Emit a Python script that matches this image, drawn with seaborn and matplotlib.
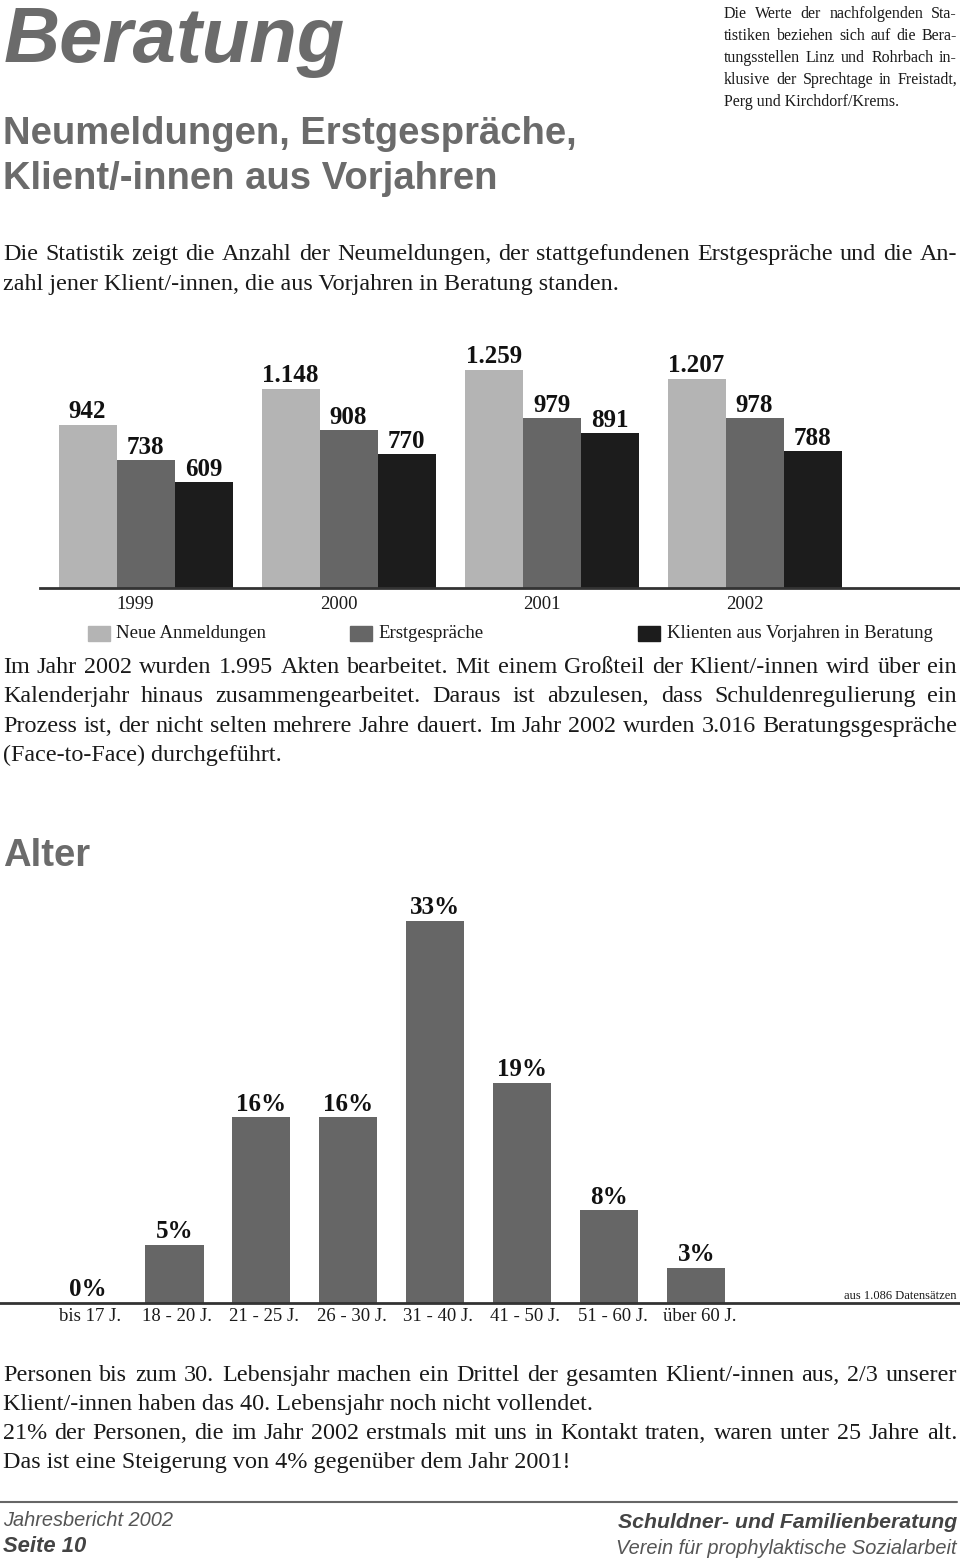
import matplotlib
matplotlib.use("Agg")
import matplotlib.pyplot as plt
import seaborn as sns
import pandas as pd
from matplotlib.patches import Rectangle
from matplotlib.lines import Line2D
from matplotlib.transforms import ScaledTranslation

# ---------------- data ----------------
years = ["1999", "2000", "2001", "2002"]
series = ["Neue Anmeldungen", "Erstgespräche", "Klienten aus Vorjahren in Beratung"]
neue = [942, 1148, 1259, 1207]
erst = [738, 908, 979, 978]
klienten = [609, 770, 891, 788]
series_colors = ["#b4b4b4", "#666666", "#1c1c1c"]

age_groups = ["bis 17 J.", "18 - 20 J.", "21 - 25 J.", "26 - 30 J.",
              "31 - 40 J.", "41 - 50 J.", "51 - 60 J.", "über 60 J."]
age_pct = [0, 5, 16, 16, 33, 19, 8, 3]

# ---------------- setup ----------------
sns.set_style("white")
SERIF = ["Liberation Serif", "DejaVu Serif"]
SANS = ["Liberation Sans", "DejaVu Sans"]
plt.rcParams["font.family"] = SERIF

W, H = 960, 1563
fig = plt.figure(figsize=(W / 100, H / 100), dpi=100)
renderer = fig.canvas.get_renderer()
GREY = "#6b6b6b"
INK = "#1a1a1a"


def fx(px):
    return px / W


def fy(py):
    return 1 - py / H


def T(x, y, s, **kw):
    kw.setdefault("va", "center")
    return fig.text(fx(x), fy(y), s, **kw)


def justify(line, x0, x1, y, **kw):
    words = line.split(" ")
    texts = [fig.text(0, 0, w, va="baseline", **kw) for w in words]
    widths = [t.get_window_extent(renderer).width for t in texts]
    gap = (x1 - x0 - sum(widths)) / max(len(words) - 1, 1)
    x = x0
    for t, w in zip(texts, widths):
        t.set_position((fx(x), fy(y)))
        x += w + gap


# ---------------- header ----------------
T(4, 41, "Beratung", family=SANS, fontsize=56, fontweight="bold",
  fontstyle="italic", color=GREY)
T(3, 134, "Neumeldungen, Erstgespräche,", family=SANS, fontsize=27.5,
  fontweight="bold", color=GREY)
T(3, 179, "Klient/-innen aus Vorjahren", family=SANS, fontsize=27.5,
  fontweight="bold", color=GREY)

side = ["Die Werte der nachfolgenden Sta-",
        "tistiken beziehen sich auf die Bera-",
        "tungsstellen Linz und Rohrbach in-",
        "klusive der Sprechtage in Freistadt,"]
SIDE = dict(family=SERIF, fontsize=11.5, color=INK)
for i, ln in enumerate(side):
    justify(ln, 724, 957, 18 + i * 22, **SIDE)
T(724, 18 + 4 * 22, "Perg und Kirchdorf/Krems.", va="baseline", **SIDE)

BODY = dict(family=SERIF, fontsize=17.4, color=INK)
justify("Die Statistik zeigt die Anzahl der Neumeldungen, der stattgefundenen "
        "Erstgespräche und die An-", 3, 957, 260, **BODY)
T(3, 290, "zahl jener Klient/-innen, die aus Vorjahren in Beratung standen.",
  va="baseline", **BODY)

# ---------------- chart 1 ----------------
ax1 = fig.add_axes([fx(40), fy(588), 920 / W, 248 / H])
df1 = pd.DataFrame({
    "Jahr": years * 3,
    "Wert": neue + erst + klienten,
    "Reihe": [series[0]] * 4 + [series[1]] * 4 + [series[2]] * 4,
})
sns.barplot(data=df1, x="Jahr", y="Wert", hue="Reihe", hue_order=series,
            palette=series_colors, width=0.857, saturation=1, errorbar=None,
            legend=False, linewidth=0, ax=ax1)
ax1.set_xlim(-0.52, 4.012)
ax1.set_ylim(0, 1429)
for cont in ax1.containers:
    ax1.bar_label(cont,
                  labels=[f"{v:,.0f}".replace(",", ".") for v in cont.datavalues],
                  padding=1, fontsize=18, fontweight="bold", family=SERIF,
                  color="#111111")
sns.despine(ax=ax1, left=True)
ax1.spines["bottom"].set_color("#333333")
ax1.spines["bottom"].set_linewidth(2)
ax1.set_yticks([])
ax1.set_xlabel("")
ax1.set_ylabel("")
ax1.tick_params(axis="x", length=0, pad=6, labelsize=13.5, labelcolor=INK)
for lbl in ax1.get_xticklabels():
    lbl.set_transform(lbl.get_transform() +
                      ScaledTranslation(-10 / 100, 0, fig.dpi_scale_trans))

# legend (manual)
leg_items = [(88, 116, series[0]), (350, 378, series[1]), (638, 667, series[2])]
for (sx, tx, name), col in zip(leg_items, series_colors):
    fig.add_artist(Rectangle((fx(sx), fy(641)), 22 / W, 15 / H, color=col,
                             transform=fig.transFigure))
    T(tx, 634, name, family=SERIF, fontsize=13.5, color=INK)

# paragraph 2
p2 = ["Im Jahr 2002 wurden 1.995 Akten bearbeitet. Mit einem Großteil der Klient/-innen wird über ein",
      "Kalenderjahr hinaus zusammengearbeitet. Daraus ist abzulesen, dass Schuldenregulierung ein",
      "Prozess ist, der nicht selten mehrere Jahre dauert. Im Jahr 2002 wurden 3.016 Beratungsgespräche"]
for i, ln in enumerate(p2):
    justify(ln, 3, 957, 673 + i * 29.5, **BODY)
T(3, 673 + 3 * 29.5, "(Face-to-Face) durchgeführt.", va="baseline", **BODY)

# ---------------- Alter ----------------
T(3, 856, "Alter", family=SANS, fontsize=27.5, fontweight="bold", color=GREY)

ax2 = fig.add_axes([0, fy(1302.5), 1, 422.5 / H])
df2 = pd.DataFrame({"Alter": age_groups, "Anteil": age_pct})
sns.barplot(data=df2, x="Alter", y="Anteil", color="#666666", width=0.667,
            saturation=1, errorbar=None, linewidth=0, ax=ax2)
ax2.set_xlim(-1.006, 10.03)
ax2.set_ylim(0, 36.5)
for cont in ax2.containers:
    ax2.bar_label(cont, labels=[f"{v:.0f}%" for v in cont.datavalues],
                  padding=1, fontsize=18, fontweight="bold", family=SERIF,
                  color="#111111")
sns.despine(ax=ax2, left=True)
ax2.spines["bottom"].set_color("#333333")
ax2.spines["bottom"].set_linewidth(2)
ax2.set_yticks([])
ax2.set_xlabel("")
ax2.set_ylabel("")
ax2.tick_params(axis="x", length=0, pad=4, labelsize=13.5, labelcolor=INK)
for lbl in ax2.get_xticklabels():
    lbl.set_transform(lbl.get_transform() +
                      ScaledTranslation(3 / 100, 0, fig.dpi_scale_trans))
T(957, 1296, "aus 1.086 Datensätzen", family=SERIF, fontsize=9, ha="right",
  color=INK)

# paragraph 3
justify("Personen bis zum 30. Lebensjahr machen ein Drittel der gesamten "
        "Klient/-innen aus, 2/3 unserer", 3, 957, 1381, **BODY)
T(3, 1410, "Klient/-innen haben das 40. Lebensjahr noch nicht vollendet.",
  va="baseline", **BODY)
justify("21% der Personen, die im Jahr 2002 erstmals mit uns in Kontakt traten, "
        "waren unter 25 Jahre alt.", 3, 957, 1439, **BODY)
T(3, 1468, "Das ist eine Steigerung von 4% gegenüber dem Jahr 2001!",
  va="baseline", **BODY)

# ---------------- footer ----------------
fig.add_artist(Line2D([0, fx(957)], [fy(1502), fy(1502)], color="#666666",
                      lw=1.5, transform=fig.transFigure))
FOOT = "#555555"
T(3, 1521, "Jahresbericht 2002", family=SANS, fontsize=14.4, fontstyle="italic",
  color=FOOT)
T(3, 1546, "Seite 10", family=SANS, fontsize=15.8, fontstyle="italic",
  fontweight="bold", color="#444444")
T(957, 1523, "Schuldner- und Familienberatung", family=SANS, fontsize=15.3,
  fontstyle="italic", fontweight="bold", color="#444444", ha="right")
T(957, 1549, "Verein für prophylaktische Sozialarbeit", family=SANS,
  fontsize=14.4, fontstyle="italic", color=FOOT, ha="right")

fig.savefig("out.png", dpi=100)
